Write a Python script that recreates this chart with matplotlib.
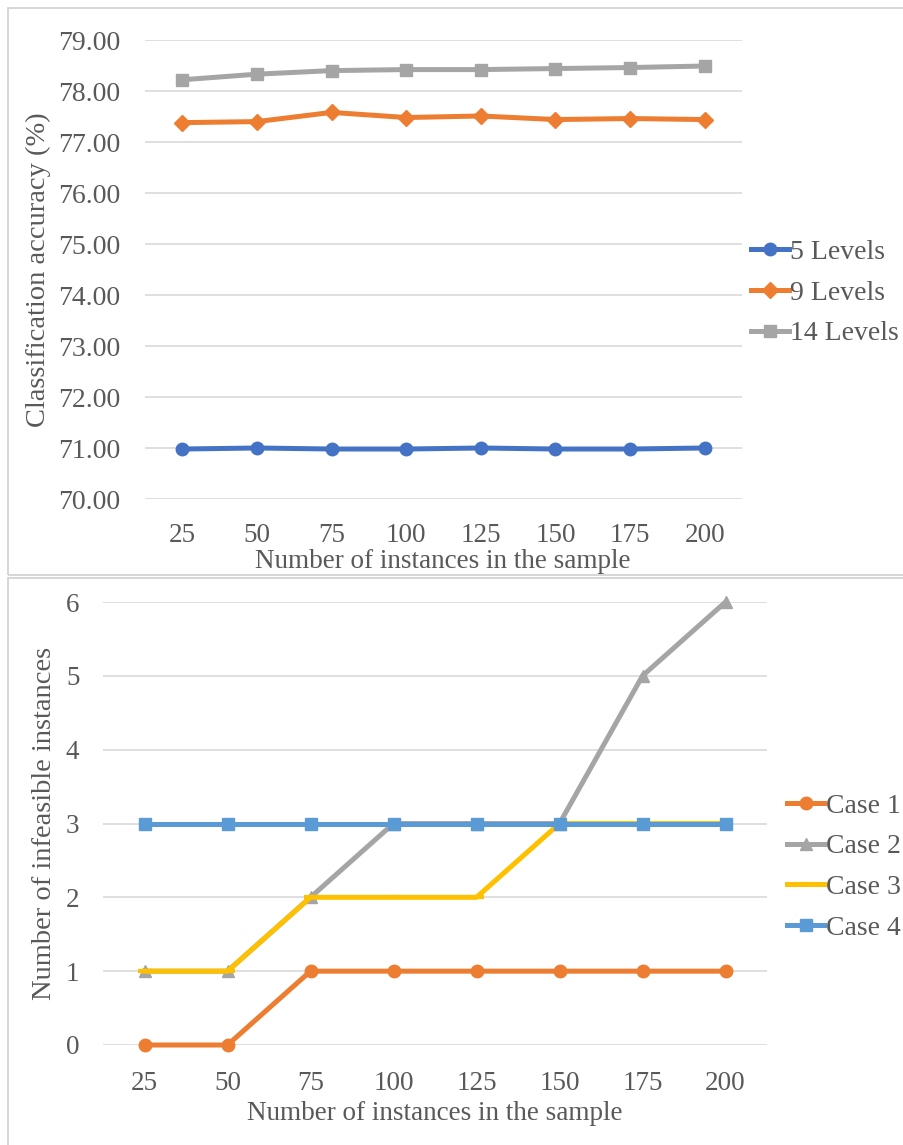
import matplotlib.pyplot as plt
from matplotlib.patches import Rectangle

# data
sizes = ['25', '50', '75', '100', '125', '150', '175', '200']

levels_names = ['5 Levels', '9 Levels', '14 Levels']
acc_5 = [70.98, 71.00, 70.98, 70.98, 71.00, 70.98, 70.98, 71.00]
acc_9 = [77.38, 77.40, 77.58, 77.48, 77.51, 77.44, 77.46, 77.44]
acc_14 = [78.22, 78.33, 78.40, 78.42, 78.42, 78.44, 78.46, 78.49]

case_names = ['Case 1', 'Case 2', 'Case 3', 'Case 4']
case_1 = [0, 0, 1, 1, 1, 1, 1, 1]
case_2 = [1, 1, 2, 3, 3, 3, 5, 6]
case_3 = [1, 1, 2, 2, 2, 3, 3, 3]
case_4 = [3, 3, 3, 3, 3, 3, 3, 3]

plt.rcParams['font.family'] = ['Liberation Serif', 'DejaVu Serif']
txt = '#595959'
grid = '#d9d9d9'

W, H = 904, 1145
fig = plt.figure(figsize=(W / 100, H / 100), dpi=100)


def px(x0, y0, x1, y1):
    # pixel box -> figure fraction [left, bottom, width, height]
    return [x0 / W, 1 - y1 / H, (x1 - x0) / W, (y1 - y0) / H]


# panel frames
for (y0, y1) in [(8, 575), (578, 1150)]:
    fig.patches.append(Rectangle((8 / W, 1 - y1 / H), 1, (y1 - y0) / H,
                                 transform=fig.transFigure, fill=False,
                                 edgecolor='#d0d0d0', linewidth=1.2))


def style(ax, pad_y, pad_x, fs):
    for s in ax.spines.values():
        s.set_visible(False)
    ax.grid(axis='y', color=grid, linewidth=1.2)
    ax.set_axisbelow(True)
    ax.tick_params(axis='both', length=0, labelcolor=txt, labelsize=fs)
    ax.tick_params(axis='y', pad=pad_y)
    ax.tick_params(axis='x', pad=pad_x)
    ax.set_xlim(-0.5, len(sizes) - 0.5)
    ax.set_xticks(range(len(sizes)))
    ax.set_xticklabels(sizes)


leg_kw = dict(loc='center left', frameon=False, fontsize=20, labelcolor=txt,
              handlelength=1.35, handletextpad=0.05, labelspacing=0.55,
              borderaxespad=0, borderpad=0)

# top chart: classification accuracy
ax1 = fig.add_axes(px(145, 40, 742, 499))
x = range(len(sizes))
ax1.plot(x, acc_5, color='#4472C4', lw=3.6, marker='o', ms=9, label=levels_names[0])
ax1.plot(x, acc_9, color='#ED7D31', lw=3.6, marker='D', ms=8, label=levels_names[1])
ax1.plot(x, acc_14, color='#A5A5A5', lw=3.6, marker='s', ms=9, label=levels_names[2])
ax1.set_ylim(70, 79)
ax1.set_yticks(range(70, 80))
ax1.set_yticklabels([f'{v:.2f}' for v in range(70, 80)])
style(ax1, 18, 17, 20)
ax1.tick_params(axis='x', labelsize=19.5)
fig.text(443 / W, 1 - 561 / H, 'Number of instances in the sample', color=txt,
         fontsize=19.5, ha='center', va='center')
fig.text(38 / W, 1 - 270 / H, 'Classification accuracy (%)', color=txt,
         fontsize=20.5, ha='center', va='center', rotation=90)
fig.legend(handles=ax1.get_lines(), bbox_to_anchor=(751 / W, 1 - 293 / H), **leg_kw)

# bottom chart: infeasible instances
ax2 = fig.add_axes(px(103, 602, 767, 1045))
ax2.plot(x, case_1, color='#ED7D31', lw=3.6, marker='o', ms=9, label=case_names[0], clip_on=False)
ax2.plot(x, case_2, color='#A5A5A5', lw=3.6, marker='^', ms=9, label=case_names[1], clip_on=False)
ax2.plot(x, case_3, color='#FFC000', lw=3.6, marker='_', ms=10, mew=3, label=case_names[2], clip_on=False)
ax2.plot(x, case_4, color='#5B9BD5', lw=3.6, marker='s', ms=9, label=case_names[3], clip_on=False)
ax2.set_ylim(0, 6)
ax2.set_yticks(range(0, 7))
style(ax2, 17, 19, 19.5)
fig.text(435 / W, 1 - 1113 / H, 'Number of instances in the sample', color=txt,
         fontsize=19.5, ha='center', va='center')
fig.text(45 / W, 1 - 823 / H, 'Number of infeasible instances', color=txt,
         fontsize=20.5, ha='center', va='center', rotation=90)
fig.legend(handles=ax2.get_lines(), bbox_to_anchor=(787 / W, 1 - 867 / H), **leg_kw)

fig.savefig('out.png', dpi=100, facecolor='white')
